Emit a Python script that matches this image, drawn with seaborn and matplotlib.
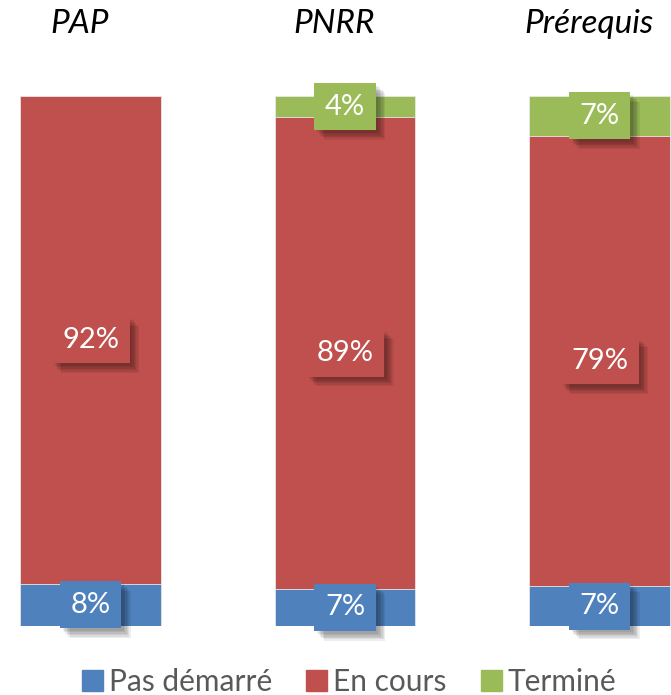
import numpy as np
import pandas as pd
import matplotlib.pyplot as plt
import matplotlib.patheffects as pe
from matplotlib.patches import Patch
import seaborn as sns

categories = ["PAP", "PNRR", "Prérequis"]
pas_demarre = [8, 7, 7]
en_cours = [92, 89, 79]
termine = [0, 4, 7]
series_names = ["Pas démarré", "En cours", "Terminé"]
colors = ["#4F81BD", "#C0504D", "#9BBB59"]

sns.set_style("white")
plt.rcParams["font.family"] = ["Lato", "DejaVu Sans"]

raw = np.array([pas_demarre, en_cours, termine], dtype=float)
share = raw / raw.sum(axis=0) * 100  # 100 % stacked
cum = np.cumsum(share, axis=0)

fig = plt.figure(figsize=(6.71, 6.95), dpi=100)
ax = fig.add_axes([0, 69 / 695, 1, 530 / 695])

# stacked bars: draw cumulative totals from the top down
for i in reversed(range(3)):
    df = pd.DataFrame({"cat": categories, "val": cum[i]})
    sns.barplot(data=df, x="cat", y="val", color=colors[i], saturation=1,
                width=0.554, edgecolor="#e8e8e8", linewidth=0.6, ax=ax)

ax.set_xlim(-90.5 / 254.5, (671 - 90.5) / 254.5)
ax.set_ylim(0, 100)
ax.axis("off")

# soft drop shadow made of several faint offset copies
shadow = [pe.SimplePatchShadow(offset=(k, -k), shadow_rgbFace="black", alpha=0.07)
          for k in (7, 6, 5, 4, 3, 2)] + [pe.Normal()]

for j, cat in enumerate(categories):
    for i in range(3):
        if raw[i, j] == 0:
            continue
        y = cum[i, j] - share[i, j] / 2
        t = ax.text(j, y, f"{int(raw[i, j])}%", ha="center", va="center",
                    color="white", fontsize=21,
                    bbox=dict(boxstyle="square,pad=0.36", fc=colors[i], ec="none"))
        t.get_bbox_patch().set_path_effects(shadow)
    fig.text((j * 254.5 + 90.5 - 11) / 671, 1 - 24 / 695, cat, ha="center",
             va="center", fontsize=24, style="italic", color="black")

handles = [Patch(color=c, label=n) for c, n in zip(colors, series_names)]
fig.legend(handles=handles, loc="center", bbox_to_anchor=(349 / 671, 1 - 682 / 695),
           ncol=3, frameon=False, fontsize=21.5, handlelength=0.7, handleheight=0.7,
           handletextpad=0.2, columnspacing=1.15, labelcolor="#595959")

fig.savefig("out.png", dpi=100)
